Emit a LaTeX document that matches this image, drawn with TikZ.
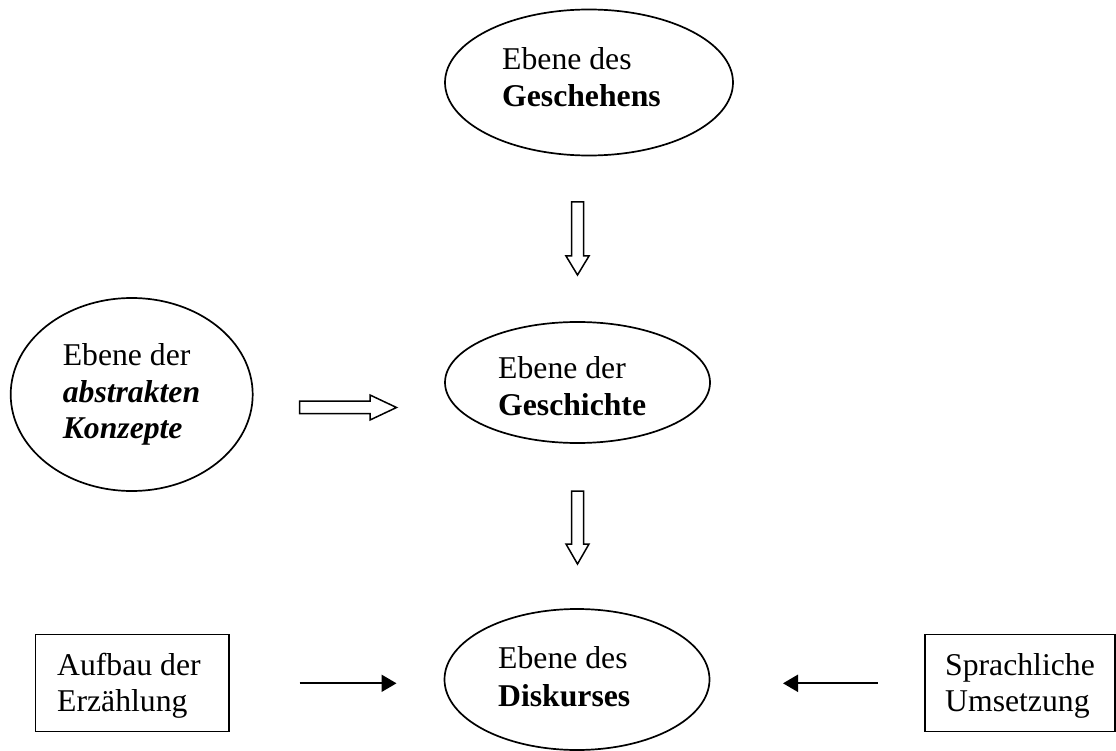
\documentclass[tikz,border=0pt]{standalone}
\usepackage{fontspec}
\setmainfont{Liberation Serif}
\usetikzlibrary{shapes.geometric,arrows.meta}
\begin{document}
\begin{tikzpicture}[x=1pt,y=-1pt,
  lvl/.style={draw,ellipse,line width=1.7pt,inner sep=0pt},
  txt/.style={anchor=base west,inner sep=0pt,font=\fontsize{31.7}{38}\selectfont},
  boxnode/.style={draw,rectangle,line width=1.6pt,inner sep=0pt},
  hollow/.style={draw,line width=1.5pt,line join=miter},
  thin/.style={line width=2pt,-{Triangle[length=15pt,width=17pt]}}]
\useasboundingbox (0,0) rectangle (1116,751);
% ellipses
\node[lvl,minimum width=288pt,minimum height=146pt] (gesch) at (589,82.5) {};
\node[lvl,minimum width=265pt,minimum height=121pt] (gschi) at (577.5,382.5) {};
\node[lvl,minimum width=242pt,minimum height=193pt] (abstr) at (131.7,394.5) {};
\node[lvl,minimum width=265pt,minimum height=141pt] (disk) at (577,679.5) {};
% boxes
\node[boxnode,minimum width=193.5pt,minimum height=96.7pt] (aufbau) at (132.3,683) {};
\node[boxnode,minimum width=190pt,minimum height=96.7pt] (sprach) at (1020,683) {};
% texts
\node[txt] (t1a) at (502,69.5) {Ebene des};
\node[txt] (t1b) at (502,106.5) {\bfseries Geschehens};
\node[txt] (t2a) at (498,378) {Ebene der};
\node[txt] (t2b) at (498,415) {\bfseries Geschichte};
\node[txt] (t3a) at (62.6,365) {Ebene der};
\node[txt] (t3b) at (62.6,402) {\bfseries\itshape abstrakten};
\node[txt] (t3c) at (62.6,438.5) {\bfseries\itshape Konzepte};
\node[txt] (t4a) at (498,668) {Ebene des};
\node[txt] (t4b) at (498,706) {\bfseries Diskurses};
\node[txt] (t5a) at (57,675) {Aufbau der};
\node[txt] (t5b) at (57,711) {Erzählung};
\node[txt] (t6a) at (945,675) {Sprachliche};
\node[txt] (t6b) at (945,711) {Umsetzung};
% hollow arrows
\draw[hollow] (571.5,202) -- (583.5,202) -- (583.5,256) -- (589,256) -- (577.5,275)
  -- (566,256) -- (571.5,256) -- cycle;
\draw[hollow] (571.5,491) -- (583.5,491) -- (583.5,544) -- (589,544) -- (577.5,564)
  -- (566,544) -- (571.5,544) -- cycle;
\draw[hollow] (299.5,401) -- (370,401) -- (370,395) -- (396.5,407.5) -- (370,420)
  -- (370,413.5) -- (299.5,413.5) -- cycle;
% thin arrows
\coordinate (la) at (299.5,683.3);
\coordinate (lb) at (396.5,683.3);
\coordinate (ra) at (877.5,683.3);
\coordinate (rb) at (783,683.3);
\draw[thin] (la) -- (lb);
\draw[thin] (ra) -- (rb);
\end{tikzpicture}
\end{document}
